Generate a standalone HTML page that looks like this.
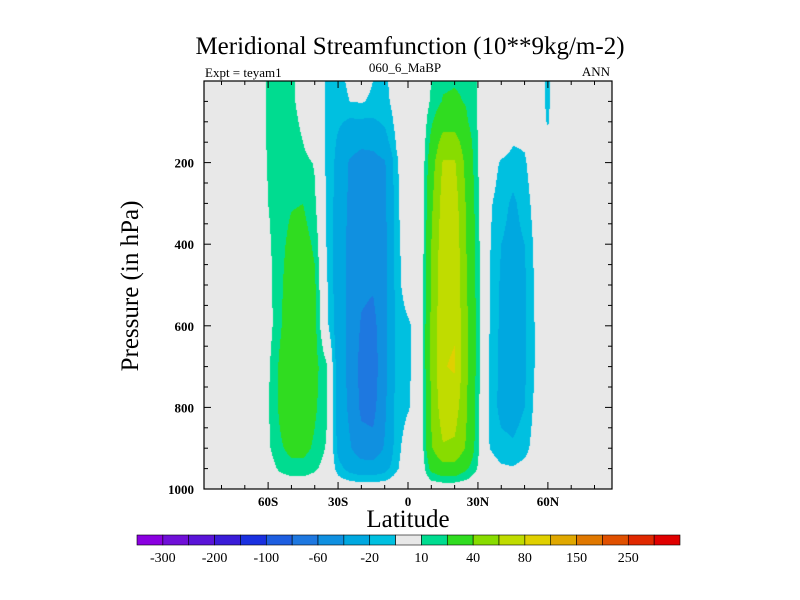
<!DOCTYPE html>
<html><head><meta charset="utf-8"><style>
body{margin:0;background:#fff;}
#wrap{position:relative;width:800px;height:600px;overflow:hidden;font-family:"Liberation Serif",serif;}
canvas{position:absolute;left:0;top:0;}
svg{position:absolute;left:0;top:0;}
</style></head><body>
<div id="wrap">
<canvas id="cv" width="800" height="600"></canvas>
<svg id="sv" width="800" height="600"></svg>
</div>
<script>
const lats=[-65,-60,-55,-50,-45,-40,-35,-30,-25,-20,-15,-10,-5,0,5,10,15,20,25,30,35,40,45,50,55,60,65];
const plevs=[0,50,100,150,200,300,400,500,600,700,800,900,950,1000];
const psi0=[0,12,14,12,5,-3,-11,-13,-8,-5,-10,-12,-5,0,-2,10,18,19,18,9,0,0,0,0,-4,-12,0];
const psi50=[0,12,14,12,6,-3,-11,-14,-10,-9,-12,-13,-6,0,-2,12,21,22,19,9,0,0,0,0,-4,-12,0];
const psi100=[0,12,15,13,8,-4,-11,-18,-22,-22,-22,-18,-7,0,-2,18,32,32,22,9,0,0,0,-2,-3,-11,0];
const psi150=[0,12,15,14,10,0,-11,-22,-32,-36,-34,-26,-9,0,-3,24,48,48,30,10,0,0,-9,-8,0,-6,0];
const psi200=[0,11,16,17,14,9,-12,-24,-42,-48,-48,-42,-12,0,-4,30,62,62,34,10,-2,-12,-15,-12,0,0,0];
const psi300=[0,10,15,19,20,12,-11,-26,-44,-50,-50,-44,-13,0,-5,36,68,70,38,12,-8,-16,-22,-16,-4,0,0];
const psi400=[0,8,16,24,25,18,-10,-27,-46,-54,-56,-46,-14,-2,-5,40,72,74,40,13,-9,-20,-24,-20,-6,0,0];
const psi500=[0,6,17,28,28,22,-8,-28,-46,-56,-58,-46,-15,-3,-5,42,74,76,42,14,-10,-22,-26,-22,-7,0,0];
const psi600=[0,5,18,30,30,24,-6,-28,-46,-62,-66,-46,-16,-12,-4,44,76,78,44,14,-10,-23,-27,-22,-8,0,0];
const psi700=[0,8,22,32,32,24,12,-28,-46,-66,-70,-46,-16,-12,-4,44,79,82,44,14,-11,-24,-28,-22,-8,0,0];
const psi800=[0,9,22,30,30,22,12,-26,-44,-64,-66,-44,-15,-11,-4,42,72,70,42,13,-12,-24,-26,-20,-6,0,0];
const psi900=[0,8,18,24,24,18,9,-24,-38,-52,-54,-38,-14,-4,-3,38,58,56,38,12,-10,-16,-18,-14,-4,0,0];
const psi950=[0,4,12,16,16,12,5,-15,-25,-30,-30,-25,-12,-2,-2,24,32,32,22,9,-4,-8,-9,-6,0,0,0];
const psi1000=[0,0,0,0,0,0,0,0,0,0,0,0,0,0,0,0,0,0,0,0,0,0,0,0,0,0,0];
const field=[psi0,psi50,psi100,psi150,psi200,psi300,psi400,psi500,psi600,psi700,psi800,psi900,psi950,psi1000];
const levels=[-300,-250,-200,-150,-100,-80,-60,-40,-20,-10,10,20,40,60,80,100,150,200,250,300];
const levelLabels=["-300","-200","-100","-60","-20","10","40","80","150","250"];
const colors=["#8a00e0","#7010d8","#5a14d8","#3a1cd8","#1a30e0","#1e5ee0","#1e78e0","#1090e0","#00a8e0","#00c0e0","#e8e8e8","#00dc90","#30dc20","#88dc00","#c0dc00","#e0d000","#e0a800","#e07800","#e05000","#e02800","#e00000"];
const xTicks=[-60,-30,0,30,60];
const xTickLabels=["60S","30S","0","30N","60N"];
const yTicks=[200,400,600,800,1000];

const L=204,R=612,T=81,B=489,latMin=-87.5,latMax=87.5,pMin=0,pMax=1000;
const xs=lat=>L+(lat-latMin)/(latMax-latMin)*(R-L);
const ys=p=>T+(p-pMin)/(pMax-pMin)*(B-T);
function hex(c){return [parseInt(c.substr(1,2),16),parseInt(c.substr(3,2),16),parseInt(c.substr(5,2),16)];}
const rgb=colors.map(hex);
function binOf(v){let i=0;while(i<levels.length&&v>=levels[i])i++;return i;}
function interp(lat,p){
  if(lat<lats[0]||lat>lats[lats.length-1])return 0;
  let i=0;while(i<lats.length-2&&lat>lats[i+1])i++;
  let j=0;while(j<plevs.length-2&&p>plevs[j+1])j++;
  const tx=(lat-lats[i])/(lats[i+1]-lats[i]),ty=(p-plevs[j])/(plevs[j+1]-plevs[j]);
  const a=field[j][i],b=field[j][i+1],c=field[j+1][i],d=field[j+1][i+1];
  return (a*(1-tx)+b*tx)*(1-ty)+(c*(1-tx)+d*tx)*ty;
}
const cv=document.getElementById('cv');const ctx=cv.getContext('2d');
const img=ctx.createImageData(R-L,B-T);
for(let y=0;y<B-T;y++){for(let x=0;x<R-L;x++){
  const lat=latMin+(x+0.5)/(R-L)*(latMax-latMin);const p=pMin+(y+0.5)/(B-T)*(pMax-pMin);
  const c=rgb[binOf(interp(lat,p))];const k=(y*(R-L)+x)*4;
  img.data[k]=c[0];img.data[k+1]=c[1];img.data[k+2]=c[2];img.data[k+3]=255;}}
ctx.putImageData(img,L,T);

const NS='http://www.w3.org/2000/svg';const sv=document.getElementById('sv');
function mk(t,a,txt){const e=document.createElementNS(NS,t);for(const k in a)e.setAttribute(k,a[k]);if(txt!==undefined)e.textContent=txt;sv.appendChild(e);return e;}
let e;
e=mk('rect',{x:L,y:T,width:R-L,height:B-T,fill:'none',stroke:'#000','stroke-width':1.2});


for(let lat=-80;lat<=80;lat+=10){const maj=lat%30===0;const len=maj?7:4;
  e=mk('line',{x1:xs(lat),x2:xs(lat),y1:B,y2:B-len,stroke:'#000'});
  
  
  mk('line',{x1:xs(lat),x2:xs(lat),y1:T,y2:T+len,stroke:'#000'});}
xTicks.forEach((v,i)=>{e=mk('text',{x:xs(v),y:B+17,'font-size':13,'font-weight':'bold','text-anchor':'middle'},xTickLabels[i]);
  
  });
for(let p=50;p<1000;p+=50){const maj=p%200===0;const len=maj?7:4;
  e=mk('line',{x1:L,x2:L+len,y1:ys(p),y2:ys(p),stroke:'#000'});
  
  
  mk('line',{x1:R,x2:R-len,y1:ys(p),y2:ys(p),stroke:'#000'});}
yTicks.forEach(v=>{e=mk('text',{x:L-10,y:ys(v)+5,'font-size':13,'font-weight':'bold','text-anchor':'end'},String(v));
  
  });
e=mk('text',{x:410,y:54,'font-size':25,'text-anchor':'middle'},'Meridional Streamfunction (10**9kg/m-2)');


e=mk('text',{x:L+1,y:77,'font-size':13},'Expt = teyam1');


e=mk('text',{x:405,y:72,'font-size':13,'text-anchor':'middle'},'060_6_MaBP');


e=mk('text',{x:R-2,y:76,'font-size':13,'text-anchor':'end'},'ANN');


e=mk('text',{x:408,y:527,'font-size':25,'text-anchor':'middle'},'Latitude');


e=mk('text',{x:138,y:286,'font-size':25,'text-anchor':'middle',transform:'rotate(-90 138 286)'},'Pressure (in hPa)');


const cbL=137,cbR=680,cbT=535,cbB=545,bw=(cbR-cbL)/colors.length;
colors.forEach((c,i)=>{e=mk('rect',{x:cbL+i*bw,y:cbT,width:bw,height:cbB-cbT,fill:c,stroke:'#000','stroke-width':0.6});
  
  });
levelLabels.forEach((t,i)=>{e=mk('text',{x:cbL+(2*i+1)*bw,y:562,'font-size':14,'text-anchor':'middle'},t);
  
  });
</script>
</body></html>
